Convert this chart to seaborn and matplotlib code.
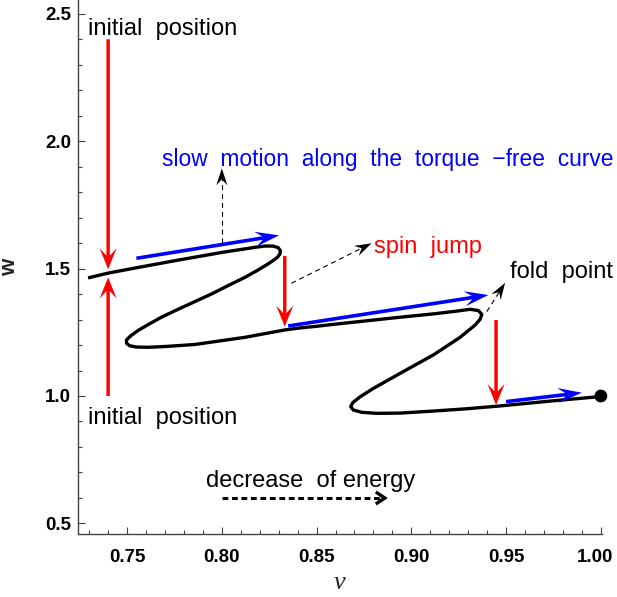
import numpy as np
import pandas as pd
import matplotlib
matplotlib.use("Agg")
import matplotlib.pyplot as plt
import seaborn as sns
from matplotlib.patches import FancyArrow
from matplotlib.lines import Line2D
from matplotlib.transforms import IdentityTransform, ScaledTranslation
from matplotlib.ticker import MultipleLocator, FormatStrFormatter

# ---------------- data ----------------
curve_nu = [0.7294, 0.7400, 0.7550, 0.7770, 0.8000, 0.8174, 0.8227, 0.8270, 0.8297,
            0.8309, 0.8306, 0.8292, 0.8270, 0.8244, 0.8191, 0.8121, 0.8033, 0.7945,
            0.7857, 0.7769, 0.7681, 0.7611, 0.7558, 0.7519, 0.7497, 0.7497, 0.7514,
            0.7549, 0.7611, 0.7699, 0.7857, 0.8121, 0.8332, 0.8413, 0.8508, 0.8589,
            0.8765, 0.8941, 0.9116, 0.9240, 0.9310, 0.9354, 0.9372, 0.9363, 0.9336,
            0.9257, 0.9116, 0.8941, 0.8800, 0.8730, 0.8691, 0.8680, 0.8694, 0.8738,
            0.8818, 0.8941, 0.9117, 0.9293, 0.9468, 0.9732, 1.0000]
curve_w = [1.463, 1.482, 1.503, 1.533, 1.563, 1.583, 1.588, 1.588, 1.582,
           1.570, 1.556, 1.543, 1.531, 1.518, 1.494, 1.465, 1.433, 1.400,
           1.370, 1.340, 1.309, 1.280, 1.257, 1.236, 1.220, 1.207, 1.197,
           1.192, 1.191, 1.194, 1.202, 1.230, 1.259, 1.267, 1.274, 1.281,
           1.295, 1.309, 1.322, 1.333, 1.340, 1.335, 1.320, 1.301, 1.278,
           1.230, 1.161, 1.089, 1.030, 0.997, 0.974, 0.958, 0.945, 0.936,
           0.932, 0.933, 0.941, 0.950, 0.961, 0.980, 0.998]

end_nu = [1.0]
end_w = [1.0]

# spin jumps (red)
red_start_nu = [0.740, 0.740, 0.8332, 0.9447]
red_start_w = [2.399, 1.000, 1.549, 1.298]
red_end_nu = [0.740, 0.740, 0.8332, 0.9447]
red_end_w = [1.497, 1.465, 1.272, 0.965]

# slow motion (blue)
blue_start_nu = [0.7549, 0.8350, 0.9500]
blue_start_w = [1.540, 1.2745, 0.978]
blue_end_nu = [0.8302, 0.9407, 0.9900]
blue_end_w = [1.630, 1.396, 1.013]

# label pointers (thin dashed)
ptr_start_nu = [0.8000, 0.8367, 0.9398]
ptr_start_w = [1.601, 1.442, 1.331]
ptr_end_nu = [0.8000, 0.8790, 0.9495]
ptr_end_w = [1.893, 1.599, 1.444]

# decrease of energy arrow
energy_nu = [0.800, 0.886]
energy_w = [0.600, 0.600]

# annotations
label_texts = ["initial  position", "initial  position",
               "slow  motion  along  the  torque  \u2212free  curve",
               "spin  jump", "fold  point", "decrease  of energy"]
label_nu = [0.7294, 0.7294, 0.7683, 0.8803, 0.9521, 0.7917]
label_w = [2.416, 0.890, 1.903, 1.562, 1.461, 0.644]
label_colors = ["black", "black", "blue", "red", "black", "black"]
label_sizes = [17, 17, 16.4, 17, 17, 17]

x_ticks = [0.75, 0.80, 0.85, 0.90, 0.95, 1.00]
y_ticks = [0.5, 1.0, 1.5, 2.0, 2.5]
x_label = "\u03bd"
y_label = "w"

# ---------------- style ----------------
sns.set_theme(style="ticks")
plt.rcParams['font.family'] = ['Liberation Sans', 'DejaVu Sans']

fig = plt.figure(figsize=(6.17, 5.97), dpi=100)
ax = fig.add_axes([78 / 617, 63 / 597, 524 / 617, 534 / 597])
ax.set_xlim(0.7241, 1.0006)
ax.set_ylim(0.4588, 2.553)

df = pd.DataFrame({"nu": curve_nu, "w": curve_w})
sns.lineplot(data=df, x="nu", y="w", sort=False, estimator=None, color="black",
             linewidth=2.4, ax=ax, solid_joinstyle="round", solid_capstyle="butt",
             zorder=3)

ident = IdentityTransform()


def solid_arrow(x0, y0, x1, y1, color, shaft, hl, hw, oh, z=4):
    p0 = ax.transData.transform((x0, y0))
    p1 = ax.transData.transform((x1, y1))
    d = p1 - p0
    arr = FancyArrow(p0[0], p0[1], d[0], d[1], width=shaft, head_width=hw,
                     head_length=hl, overhang=oh, length_includes_head=True,
                     transform=ident, color=color, lw=0, zorder=z)
    fig.add_artist(arr)


def head_only(x0, y0, x1, y1, color, hl, hw, oh, z=4):
    p0 = ax.transData.transform((x0, y0))
    p1 = ax.transData.transform((x1, y1))
    d = p1 - p0
    u = d / np.hypot(*d)
    s = p1 - u * hl
    arr = FancyArrow(s[0], s[1], u[0] * hl, u[1] * hl, width=0.01, head_width=hw,
                     head_length=hl, overhang=oh, length_includes_head=True,
                     transform=ident, color=color, lw=0, zorder=z)
    fig.add_artist(arr)
    return ax.transData.inverted().transform(p1 - u * hl * (1 - oh))


for a, b, c, d in zip(red_start_nu, red_start_w, red_end_nu, red_end_w):
    solid_arrow(a, b, c, d, "red", 3.4, 21, 17, 0.35)

for a, b, c, d in zip(blue_start_nu, blue_start_w, blue_end_nu, blue_end_w):
    solid_arrow(a, b, c, d, "blue", 3.6, 24, 15, 0.3)

for a, b, c, d in zip(ptr_start_nu, ptr_start_w, ptr_end_nu, ptr_end_w):
    base = head_only(a, b, c, d, "black", 17, 11, 0.35)
    ax.plot([a, base[0]], [b, base[1]], color="black", lw=0.8,
            dashes=(4.5, 3.5), zorder=4)

# decrease of energy: thick dashed shaft + open chevron
ax.plot(energy_nu, energy_w, color="black", lw=2.2, dashes=(1.9, 1.2),
        dash_capstyle="butt", zorder=4)
tip = ax.transData.transform((energy_nu[1], energy_w[1]))
chev = Line2D([tip[0] - 9, tip[0], tip[0] - 9], [tip[1] + 6, tip[1], tip[1] - 6],
              transform=ident, color="black", lw=2.4, solid_joinstyle="miter",
              solid_capstyle="butt")
fig.add_artist(chev)

sns.scatterplot(x=end_nu, y=end_w, s=85, color="black", edgecolor="none",
                ax=ax, clip_on=False, zorder=6, legend=False)

for t, xv, yv, c, fs in zip(label_texts, label_nu, label_w, label_colors, label_sizes):
    ax.text(xv, yv, t, color=c, fontsize=fs, ha="left", va="baseline",
            fontfamily=["Liberation Sans", "DejaVu Sans"], zorder=7)

# ---------------- axes ----------------
for side in ["top", "right"]:
    ax.spines[side].set_visible(False)
for side in ["left", "bottom"]:
    ax.spines[side].set_color("#444444")
    ax.spines[side].set_linewidth(1.0)

ax.set_xticks(x_ticks)
ax.set_yticks(y_ticks)
ax.xaxis.set_major_formatter(FormatStrFormatter("%.2f"))
ax.yaxis.set_major_formatter(FormatStrFormatter("%.1f"))
ax.xaxis.set_minor_locator(MultipleLocator(0.01))
ax.yaxis.set_minor_locator(MultipleLocator(0.1))
ax.tick_params(which="both", direction="in", color="#444444", width=0.8)
ax.tick_params(which="major", length=5)
ax.tick_params(which="minor", length=2.6)
ax.tick_params(axis="x", which="major", pad=11)
ax.tick_params(axis="y", which="major", pad=5)
for lab in ax.get_xticklabels() + ax.get_yticklabels():
    lab.set_fontweight("bold")
    lab.set_fontsize(13.5)
    lab.set_color("black")

# keep the last x tick label inside the canvas
last_lab = ax.xaxis.get_major_ticks()[-1].label1
last_lab.set_transform(last_lab.get_transform()
                       + ScaledTranslation(-4 / 72, 0, fig.dpi_scale_trans))

ax.set_xlabel(x_label, fontfamily="Liberation Serif", fontstyle="italic",
              fontsize=19, labelpad=4)
ax.set_ylabel(y_label, fontweight="bold", fontsize=16, labelpad=18)
ax.grid(False)

fig.savefig("out.png", dpi=100)
